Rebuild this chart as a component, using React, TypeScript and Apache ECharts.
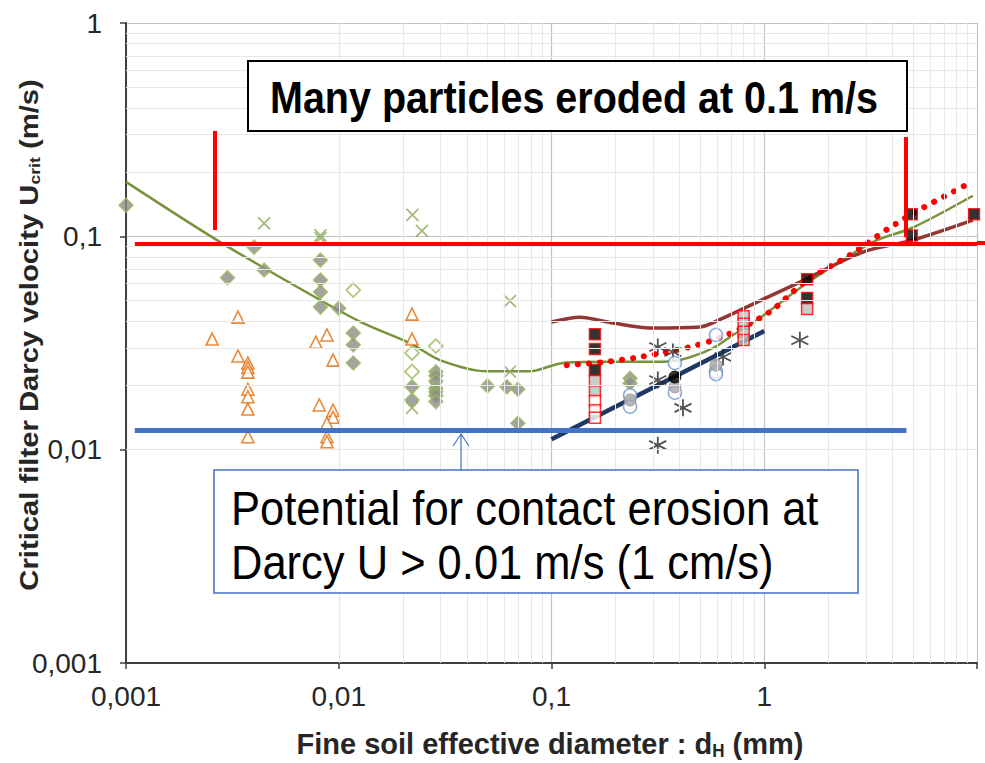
import React, { useEffect, useRef } from 'react';
import * as echarts from 'echarts';

// ---------- data (x: d_H in mm, y: U_crit in m/s) ----------
const xTickLabels: Record<number, string> = { [-3]: '0,001', [-2]: '0,01', [-1]: '0,1', [0]: '1' };
const yTickLabels: Record<number, string> = { [-3]: '0,001', [-2]: '0,01', [-1]: '0,1', [0]: '1' };

const greyDiamonds: [number, number][] = [
  [0.001, 0.14], [0.003, 0.064], [0.004, 0.089], [0.00446, 0.0695],
  [0.0082, 0.0774], [0.0082, 0.0624], [0.0082, 0.0548], [0.0082, 0.0466], [0.01, 0.046],
  [0.0117, 0.0352], [0.0117, 0.031], [0.0117, 0.0255],
  [0.0221, 0.0197], [0.0221, 0.0171],
  [0.0286, 0.0232], [0.0286, 0.0222], [0.0286, 0.021], [0.0286, 0.0194], [0.0286, 0.0187],
  [0.0286, 0.0179], [0.0286, 0.0168],
  [0.05, 0.0199], [0.0617, 0.0197], [0.0695, 0.0192], [0.0695, 0.0133],
  [0.234, 0.0216], [0.234, 0.0205],
];
const openDiamonds: [number, number][] = [
  [0.0117, 0.056], [0.0221, 0.0284], [0.0221, 0.0232], [0.0286, 0.0306],
];
const greenCrosses: [number, number][] = [
  [0.00446, 0.115], [0.0082, 0.101], [0.0082, 0.098], [0.0222, 0.126], [0.0246, 0.106],
  [0.0638, 0.0497], [0.0638, 0.0232], [0.0221, 0.0157], [0.0286, 0.0194],
];
const orangeTriangles: [number, number][] = [
  [0.00254, 0.033], [0.00336, 0.0418], [0.00336, 0.0275],
  [0.00374, 0.0255], [0.00374, 0.0243], [0.00374, 0.0231], [0.00374, 0.0192], [0.00374, 0.0177],
  [0.00374, 0.0155], [0.00374, 0.0115],
  [0.0078, 0.0319], [0.0088, 0.0345], [0.0094, 0.0263], [0.0081, 0.0162], [0.0094, 0.0153],
  [0.0094, 0.0142], [0.0088, 0.0133], [0.0088, 0.0115], [0.0088, 0.0109],
  [0.0221, 0.0432], [0.0221, 0.033],
];
const asterisks: [number, number][] = [
  [0.316, 0.0303], [0.372, 0.0287], [0.316, 0.0212], [0.415, 0.0157], [0.316, 0.0105],
  [0.64, 0.0272], [1.47, 0.0326],
];
const blueCircles: [number, number][] = [
  [0.234, 0.018], [0.234, 0.0159], [0.38, 0.0255], [0.38, 0.0185],
  [0.593, 0.0345], [0.593, 0.0232], [0.593, 0.0226],
];
const greyCircles: [number, number][] = [[0.234, 0.0171], [0.38, 0.0197], [0.593, 0.0249]];
const blackCircles: [number, number][] = [[0.38, 0.0219]];
const blackSquares: [number, number][] = [
  [0.16, 0.0348], [0.16, 0.0296], [0.16, 0.0236], [1.59, 0.063], [1.59, 0.0514],
  [4.94, 0.127], [4.94, 0.101], [9.68, 0.127],
];
const greySquares: [number, number][] = [
  [0.16, 0.021], [0.16, 0.0188], [0.8, 0.0422], [0.8, 0.0389], [0.8, 0.0357], [0.8, 0.0327], [1.59, 0.0456],
];
const whiteSquares: [number, number][] = [[0.16, 0.0169], [0.16, 0.0153], [0.16, 0.0141]];

const greenCurve: [number, number][] = [
  [0.001, 0.18], [0.00277, 0.094], [0.00817, 0.0503], [0.013, 0.0392], [0.0216, 0.0316],
  [0.0299, 0.0263], [0.0495, 0.0233], [0.0792, 0.0233], [0.113, 0.0255], [0.182, 0.0258],
  [0.313, 0.0258], [0.402, 0.0263], [0.574, 0.0299], [0.713, 0.0345], [0.925, 0.0405],
  [1.59, 0.0604], [3.24, 0.094], [5.0, 0.11], [9.57, 0.155],
];
const darkRedCurve: [number, number][] = [
  [0.1, 0.0397], [0.136, 0.0418], [0.195, 0.0392], [0.29, 0.0372], [0.499, 0.0376],
  [0.64, 0.0414], [0.925, 0.0492], [1.47, 0.061], [2.91, 0.0844], [5.0, 0.096], [9.57, 0.119],
];
const redDottedCurve: [number, number][] = [
  [0.118, 0.0249], [0.175, 0.0257], [0.261, 0.0272], [0.448, 0.0303], [0.668, 0.0345],
  [1.06, 0.0442], [1.59, 0.0624], [2.53, 0.0817], [3.9, 0.11], [5.57, 0.136], [9.08, 0.176],
];
const navyLine: [number, number][] = [[0.1, 0.0112], [1.0, 0.036]];

// annotation lines (data coordinates)
const redHorizontal: [number, number][] = [[0.0011, 0.092], [10, 0.092]];
const redVerticalLeft: [number, number][] = [[0.0026, 0.107], [0.0026, 0.312]];
const redVerticalRight: [number, number][] = [[4.64, 0.099], [4.64, 0.292]];
const blueHorizontal: [number, number][] = [[0.0011, 0.01236], [4.66, 0.01236]];

const minorMultipliers = [2, 3, 4, 5, 6, 7, 8, 9];
const xDecades = [-3, -2, -1, 0];
const yDecades = [-3, -2, -1];

const FONT = '"Liberation Sans", Arial, sans-serif';

export default function App() {
  const ref = useRef<HTMLDivElement>(null);
  useEffect(() => {
    const chart = echarts.init(ref.current!, null, { renderer: 'svg' });

    const xMinor: number[] = [];
    xDecades.forEach((d) => minorMultipliers.forEach((m) => xMinor.push(m * Math.pow(10, d))));
    const yMinor: number[] = [];
    yDecades.forEach((d) => minorMultipliers.forEach((m) => yMinor.push(m * Math.pow(10, d))));

    const crossPath = 'path://M0,0L10,10M10,0L0,10';
    const asteriskPath = 'path://M5,0L5,10M0.7,2.5L9.3,7.5M0.7,7.5L9.3,2.5';

    const scatter = (name: string, data: [number, number][], symbol: string, size: number, itemStyle: any) => ({
      name, type: 'scatter', data, symbol, symbolSize: size, itemStyle, z: 4, silent: true,
    });
    const line = (name: string, data: [number, number][], lineStyle: any, smooth: number | boolean) => ({
      name, type: 'line', data, showSymbol: false, symbol: 'none', smooth, lineStyle, z: 3, silent: true,
    });
    const seg = (pts: [number, number][], color: string, width: number) => [
      { coord: pts[0], lineStyle: { color, width, type: 'solid' } },
      { coord: pts[1] },
    ];

    const axisCommon = {
      type: 'log',
      logBase: 10,
      axisLine: { show: true, onZero: false, lineStyle: { color: '#404040', width: 2 } },
      axisTick: { show: true, inside: false, length: 6, lineStyle: { color: '#404040', width: 1.5 } },
      splitLine: { show: true, lineStyle: { color: '#c4c4c4', width: 1.2 } },
      minorTick: { show: false },
      minorSplitLine: { show: false },
    };

    chart.setOption({
      animation: false,
      backgroundColor: '#ffffff',
      grid: { left: 126, right: 8, top: 23, bottom: 100, containLabel: false },
      xAxis: {
        ...axisCommon,
        min: 0.001,
        max: 10,
        axisLabel: {
          margin: 19,
          fontFamily: FONT,
          fontSize: 28,
          color: '#262626',
          formatter: (v: number) => xTickLabels[Math.round(Math.log10(v))] ?? '',
        },
      },
      yAxis: {
        ...axisCommon,
        min: 0.001,
        max: 1,
        axisLabel: {
          margin: 24,
          fontFamily: FONT,
          fontSize: 28,
          color: '#262626',
          formatter: (v: number) => yTickLabels[Math.round(Math.log10(v))] ?? '',
        },
      },
      series: [
        {
          name: 'minor grid', type: 'line', data: [], z: 1, silent: true,
          markLine: {
            silent: true, symbol: ['none', 'none'], label: { show: false }, animation: false,
            lineStyle: { color: '#e8e8e8', width: 1, type: 'solid' },
            data: [...xMinor.map((v) => ({ xAxis: v })), ...yMinor.map((v) => ({ yAxis: v }))],
          },
        },
        line('green curve', greenCurve, { color: '#77933C', width: 2.5 }, 0.3),
        line('dark red curve', darkRedCurve, { color: '#943634', width: 3.5 }, 0.3),
        line('red dotted', redDottedCurve, { color: '#FF0000', width: 6, type: [0.1, 11], cap: 'round' }, 0.3),
        line('navy', navyLine, { color: '#1F3864', width: 4.5 }, false),
        scatter('grey diamonds', greyDiamonds, 'diamond', 14, { color: '#8c8c8c', borderColor: '#9BBB59', borderWidth: 1.5 }),
        scatter('open diamonds', openDiamonds, 'diamond', 14, { color: '#ffffff', borderColor: '#9BBB59', borderWidth: 1.8 }),
        scatter('green crosses', greenCrosses, crossPath, 12, { color: 'none', borderColor: '#8FAA5C', borderWidth: 1.8 }),
        scatter('orange triangles', orangeTriangles, 'triangle', 12, { color: '#ffffff', borderColor: '#E46C0A', borderWidth: 1.6 }),
        scatter('asterisks', asterisks, asteriskPath, 17, { color: 'none', borderColor: '#262626', borderWidth: 1.8 }),
        scatter('blue circles', blueCircles, 'circle', 13, { color: '#ffffff', borderColor: '#6F94D0', borderWidth: 1.5 }),
        scatter('grey circles', greyCircles, 'circle', 12, { color: '#a6a6a6', borderColor: '#8c8c8c', borderWidth: 1 }),
        scatter('black circles', blackCircles, 'circle', 12, { color: '#000000', borderColor: '#000000', borderWidth: 1 }),
        scatter('black squares', blackSquares, 'rect', 11, { color: '#000000', borderColor: '#FF0000', borderWidth: 1.5 }),
        scatter('grey squares', greySquares, 'rect', 11, { color: '#bfbfbf', borderColor: '#FF0000', borderWidth: 1.5 }),
        scatter('white squares', whiteSquares, 'rect', 11, { color: '#ffffff', borderColor: '#FF0000', borderWidth: 1.5 }),
        {
          name: 'annotations', type: 'line', data: [], z: 10, silent: true,
          markLine: {
            silent: true, symbol: ['none', 'none'], label: { show: false }, animation: false,
            data: [
              seg(redHorizontal, '#FF0000', 4),
              seg(redVerticalLeft, '#FF0000', 4),
              seg(redVerticalRight, '#FF0000', 4),
              seg(blueHorizontal, '#4472C4', 5),
            ],
          },
        },
      ],
      graphic: [
        {
          type: 'line', z: 50, shape: { x1: 977, y1: 243, x2: 985, y2: 243 },
          style: { stroke: '#FF0000', lineWidth: 4 },
        },
        {
          type: 'rect', z: 100, shape: { x: 248, y: 61, width: 659, height: 70 },
          style: { fill: '#ffffff', stroke: '#000000', lineWidth: 2 },
        },
        {
          type: 'text', z: 101, x: 574, y: 98, scaleY: 1.1,
          style: {
            text: 'Many particles eroded at 0.1 m/s', fill: '#000000',
            font: `bold 39.5px ${FONT}`, align: 'center', verticalAlign: 'middle',
          },
        },
        {
          type: 'rect', z: 100, shape: { x: 214, y: 470, width: 644, height: 123 },
          style: { fill: '#ffffff', stroke: '#4472C4', lineWidth: 1.5 },
        },
        {
          type: 'text', z: 101, x: 231, y: 508, scaleY: 1.12,
          style: {
            text: 'Potential for contact erosion at', fill: '#000000',
            font: `43.5px ${FONT}`, align: 'left', verticalAlign: 'middle',
          },
        },
        {
          type: 'text', z: 101, x: 231, y: 562, scaleY: 1.12,
          style: {
            text: 'Darcy U > 0.01 m/s (1 cm/s)', fill: '#000000',
            font: `43.5px ${FONT}`, align: 'left', verticalAlign: 'middle',
          },
        },
        {
          type: 'line', z: 100, shape: { x1: 461, y1: 470, x2: 461, y2: 434 },
          style: { stroke: '#4472C4', lineWidth: 1.2 },
        },
        {
          type: 'polyline', z: 100, shape: { points: [[453, 446], [461, 434], [469, 446]] },
          style: { stroke: '#4472C4', lineWidth: 1.2, fill: 'none' },
        },
        {
          type: 'text', z: 101, x: 550, y: 743, scaleY: 1.04,
          style: {
            text: '{b|Fine soil effective diameter : d}{s|H}{b| (mm)}',
            align: 'center', verticalAlign: 'middle',
            rich: {
              b: { font: `bold 29px ${FONT}`, fill: '#262626', lineHeight: 32 },
              s: { font: `bold 17px ${FONT}`, fill: '#262626', verticalAlign: 'bottom' },
            },
          },
        },
        {
          type: 'text', z: 101, x: 29, y: 335, rotation: Math.PI / 2, scaleX: 1.17,
          style: {
            text: '{b|Critical filter Darcy velocity U}{s|crit}{b| (m/s)}',
            align: 'center', verticalAlign: 'middle',
            rich: {
              b: { font: `bold 25px ${FONT}`, fill: '#262626' },
              s: { font: `bold 15px ${FONT}`, fill: '#262626', verticalAlign: 'bottom' },
            },
          },
        },
      ],
    });
    return () => chart.dispose();
  }, []);
  return (
    <div
      ref={ref}
      style={{ position: 'absolute', left: 0, top: 0, width: 985, height: 763, background: '#fff' }}
    />
  );
}
